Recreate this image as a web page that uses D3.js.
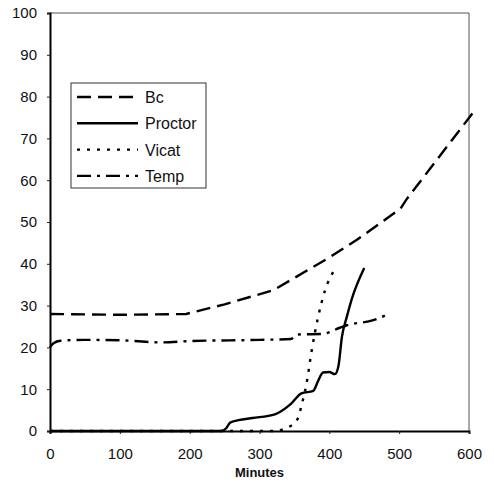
<!DOCTYPE html>
<html>
<head>
<meta charset="utf-8">
<script src="https://cdn.jsdelivr.net/npm/d3@7"></script>
<style>
  body { margin: 0; background: #fff; }
  svg text { font-family: "Liberation Sans", Arial, sans-serif; fill: #111; }
</style>
</head>
<body>
<div class="chart"></div>
<script>
// values: [minutes, value]
var bc = [[0,28],[100,27.8],[195,28],[250,30.3],[320,33.7],[400,41.5],[440,45.8],[502,53.2],[510,55.3],[605,76]];
var proctor = [[0,0],[245,0],[252,0.6],[258,2],[270,2.6],[290,3.1],[322,4],[345,6.5],[360,9],[377,9.6],[384,12],[391,14],[400,14.1],[408,13.6],[413,15.5],[418,22.5],[425,27.3],[432,31.5],[450,39]];
var vicat = [[0,0],[320,0],[340,0.8],[355,3],[360,6],[367,11],[375,19.5],[384,27.3],[394,33.7],[408,38.7]];
var temp = [[0,20],[5,21],[15,21.6],[50,21.8],[100,21.7],[160,21.2],[200,21.5],[300,21.8],[345,22],[355,23.1],[390,23.2],[415,24.7],[425,25.3],[463,26.5],[482,27.8]];

var seriesNames = ["Bc", "Proctor", "Vicat", "Temp"];
var seriesData = [bc, proctor, vicat, temp];
var dashes = ["14,7", null, "3,7", "14,6,3,6"];

var xTicks = [0, 100, 200, 300, 400, 500, 600];
var yTicks = [0, 10, 20, 30, 40, 50, 60, 70, 80, 90, 100];

function init(){
    createChart(".chart");
}

function createChart(id){
    var margin = {top: 13, right: 25, bottom: 51, left: 50},
        width = 494 - margin.left - margin.right,
        height = 482 - margin.top - margin.bottom;

    const svg = d3.select(id)
        .append("svg")
        .attr("width", 494)
        .attr("height", 482)
        .append("g")
        .attr("transform", `translate(${margin.left}, ${margin.top})`);

    var x = d3.scaleLinear().domain([0, 600]).range([0, width]);
    var y = d3.scaleLinear().domain([0, 100]).range([height, 0]);

    // thin frame top and right
    svg.append("path")
        .attr("d", `M0,0H${width}V${height}`)
        .attr("fill", "none")
        .attr("stroke", "#555")
        .attr("stroke-width", 1);

    var xAxis = svg.append("g")
        .attr("transform", `translate(0, ${height})`)
        .call(d3.axisBottom(x).tickValues(xTicks).tickSize(3).tickPadding(14));
    var yAxis = svg.append("g")
        .call(d3.axisLeft(y).tickValues(yTicks).tickSize(3).tickPadding(10));

    [xAxis, yAxis].forEach(function(a){
        a.select(".domain").attr("stroke", "#000").attr("stroke-width", 2);
        a.selectAll(".tick line").attr("stroke", "#222");
        a.selectAll(".tick text")
            .attr("font-family", "Liberation Sans, Arial, sans-serif")
            .attr("font-size", 15)
            .attr("fill", "#111");
    });

    svg.append("text")
        .attr("x", x(300))
        .attr("y", height + 46)
        .attr("text-anchor", "middle")
        .attr("font-size", 13)
        .attr("font-weight", "bold")
        .text("Minutes");

    // Bc has sharp corners, the rest are smooth
    var lineStraight = d3.line()
        .x(d => x(d[0]))
        .y(d => y(d[1]));
    var lineSmooth = d3.line()
        .x(d => x(d[0]))
        .y(d => y(d[1]))
        .curve(d3.curveMonotoneX);

    seriesData.forEach(function(s, i){
        svg.append("path")
            .datum(s)
            .attr("fill", "none")
            .attr("stroke", "#000")
            .attr("stroke-width", 2.4)
            .attr("stroke-dasharray", dashes[i])
            .attr("d", i == 0 ? lineStraight : lineSmooth);
    });

    // legend
    var lg = svg.append("g").attr("transform", `translate(${71 - margin.left}, ${83 - margin.top})`);
    lg.append("rect")
        .attr("width", 135)
        .attr("height", 105)
        .attr("fill", "#fff")
        .attr("stroke", "#333")
        .attr("stroke-width", 1);
    seriesNames.forEach(function(n, i){
        var yy = 14 + i * 26.3;
        lg.append("line")
            .attr("x1", 6).attr("x2", 67)
            .attr("y1", yy).attr("y2", yy)
            .attr("stroke", "#000")
            .attr("stroke-width", 2.4)
            .attr("stroke-dasharray", dashes[i]);
        lg.append("text")
            .attr("x", 74)
            .attr("y", yy + 6)
            .attr("font-size", 16)
            .text(n);
    });
}

init();
</script>
</body>
</html>
